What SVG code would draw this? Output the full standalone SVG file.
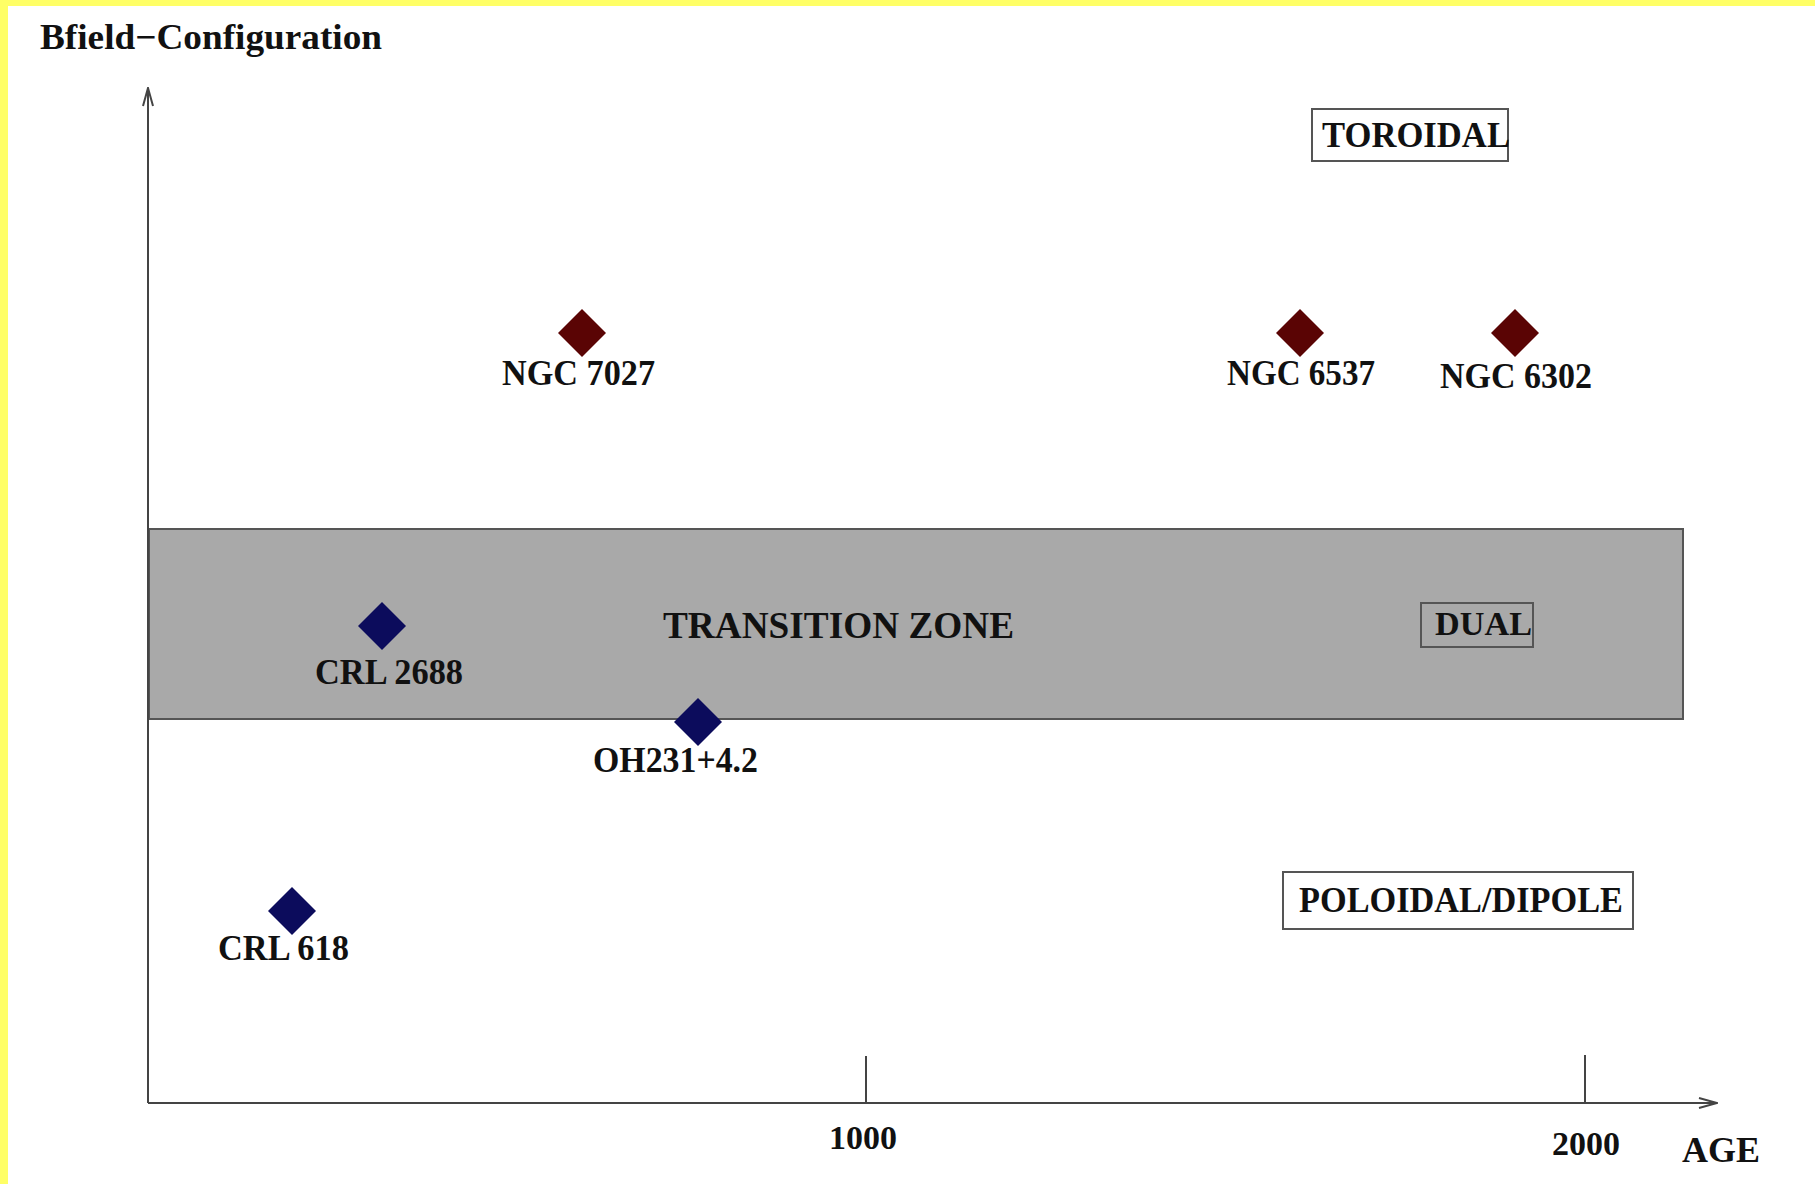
<svg xmlns="http://www.w3.org/2000/svg" width="1815" height="1184" viewBox="0 0 1815 1184">
<style>
  text { font-family: "Liberation Serif", "Times New Roman", serif; font-weight: bold; fill: #111; }
  .lbl { font-size: 35px; }
  .axis { stroke: #444; stroke-width: 2; fill: none; }
  .box { fill: none; stroke: #555; stroke-width: 2; }
  .red { fill: #5a0404; }
  .blue { fill: #0c0c5c; }
</style>
<defs>
  <marker id="arr" markerWidth="20" markerHeight="12" refX="19" refY="6" orient="auto" markerUnits="userSpaceOnUse">
    <path d="M1,1 L19,6 L1,11 M5,6 L19,6" fill="none" stroke="#444" stroke-width="2"/>
  </marker>
</defs>
<rect x="0" y="0" width="1815" height="1184" fill="#ffffff"/>
<rect x="0" y="0" width="1815" height="6" fill="#ffff66"/>
<rect x="0" y="0" width="8" height="1184" fill="#ffff66"/>

<g id="band">
  <rect x="149" y="529" width="1534" height="190" fill="#a9a9a9" stroke="#555" stroke-width="2"/>
  <text x="663" y="638" font-size="37" textLength="351" lengthAdjust="spacingAndGlyphs">TRANSITION ZONE</text>
</g>

<g id="connectors">
  <line class="axis" x1="148" y1="1103" x2="148" y2="88" marker-end="url(#arr)"/>
  <line class="axis" x1="148" y1="1103" x2="1717" y2="1103" marker-end="url(#arr)"/>
  <line class="axis" x1="866" y1="1056" x2="866" y2="1103"/>
  <line class="axis" x1="1585" y1="1055" x2="1585" y2="1103"/>
</g>

<g id="title">
  <text x="40" y="49" font-size="36" textLength="342" lengthAdjust="spacingAndGlyphs">Bfield−Configuration</text>
</g>

<g id="toroidal">
  <rect class="box" x="1312" y="109" width="196" height="52"/>
  <text x="1322" y="147" font-size="35" textLength="188" lengthAdjust="spacingAndGlyphs">TOROIDAL</text>
</g>

<g id="dual">
  <rect class="box" x="1421" y="603" width="112" height="44"/>
  <text x="1435" y="635" font-size="34" textLength="97" lengthAdjust="spacingAndGlyphs">DUAL</text>
</g>

<g id="poloidal">
  <rect class="box" x="1283" y="872" width="350" height="57"/>
  <text x="1299" y="912" font-size="35" textLength="324" lengthAdjust="spacingAndGlyphs">POLOIDAL/DIPOLE</text>
</g>

<g id="ngc7027">
  <path class="red" d="M582,309 L606,333 L582,357 L558,333 Z"/>
  <text x="502" y="385" class="lbl" textLength="153" lengthAdjust="spacingAndGlyphs">NGC 7027</text>
</g>

<g id="ngc6537">
  <path class="red" d="M1300,309 L1324,333 L1300,357 L1276,333 Z"/>
  <text x="1227" y="385" class="lbl" textLength="148" lengthAdjust="spacingAndGlyphs">NGC 6537</text>
</g>

<g id="ngc6302">
  <path class="red" d="M1515,309 L1539,333 L1515,357 L1491,333 Z"/>
  <text x="1440" y="388" class="lbl" textLength="152" lengthAdjust="spacingAndGlyphs">NGC 6302</text>
</g>

<g id="crl2688">
  <path class="blue" d="M382,602 L406,626 L382,650 L358,626 Z"/>
  <text x="315" y="684" class="lbl" textLength="148" lengthAdjust="spacingAndGlyphs">CRL 2688</text>
</g>

<g id="oh231">
  <path class="blue" d="M698,698 L722,722 L698,746 L674,722 Z"/>
  <text x="593" y="772" class="lbl" textLength="165" lengthAdjust="spacingAndGlyphs">OH231+4.2</text>
</g>

<g id="crl618">
  <path class="blue" d="M292,887 L316,911 L292,935 L268,911 Z"/>
  <text x="218" y="960" class="lbl" textLength="131" lengthAdjust="spacingAndGlyphs">CRL 618</text>
</g>

<g id="ticks">
  <text x="863" y="1149" font-size="34" text-anchor="middle">1000</text>
  <text x="1586" y="1155" font-size="34" text-anchor="middle">2000</text>
  <text x="1682" y="1162" font-size="36" textLength="78" lengthAdjust="spacingAndGlyphs">AGE</text>
</g>
</svg>
